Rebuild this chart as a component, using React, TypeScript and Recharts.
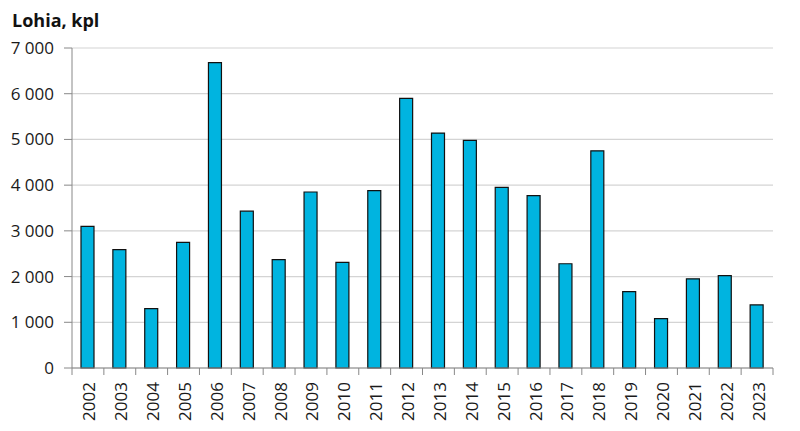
import { BarChart, Bar, XAxis, YAxis, CartesianGrid } from 'recharts'

const years = [
  '2002', '2003', '2004', '2005', '2006', '2007', '2008', '2009', '2010', '2011', '2012',
  '2013', '2014', '2015', '2016', '2017', '2018', '2019', '2020', '2021', '2022', '2023',
]
const counts = [
  3100, 2590, 1300, 2750, 6680, 3430, 2370, 3850, 2310, 3880, 5900,
  5140, 4980, 3950, 3770, 2280, 4750, 1670, 1080, 1950, 2020, 1380,
]
const yTicks = [0, 1000, 2000, 3000, 4000, 5000, 6000, 7000]

const data = years.map((year, i) => ({ year, count: counts[i] }))

const FONT = '"Open Sans", "Noto Sans", sans-serif'
const AXIS = '#888888'
const WIDTH = 800
const HEIGHT = 431
const MARGIN = { top: 48, right: 27, bottom: 0, left: 0 }
const Y_WIDTH = 72

const fmt = (v: number) => v.toLocaleString('en-US').replace(/,/g, ' ')

function YearTick(props: any) {
  const { x, y, payload, index } = props
  const half = (WIDTH - MARGIN.right - Y_WIDTH) / years.length / 2
  return (
    <g>
      <line x1={x - half} x2={x - half} y1={y - 8} y2={y - 1} stroke={AXIS} />
      {index === years.length - 1 && (
        <line x1={x + half} x2={x + half} y1={y - 8} y2={y - 1} stroke={AXIS} />
      )}
      <text
        x={0}
        y={0}
        transform={`translate(${x + 1},${y + 6}) rotate(-90)`}
        textAnchor="end"
        dominantBaseline="central"
        fontSize={17}
        fontFamily={FONT}
        fill="#1a1a1a"
      >
        {payload.value}
      </text>
    </g>
  )
}

export default function App() {
  return (
    <div style={{ position: 'absolute', left: 0, top: 0, background: '#fff' }}>
      <div
        style={{
          position: 'absolute', left: 12, top: 8, fontFamily: FONT, fontWeight: 700,
          fontSize: 18, color: '#111',
        }}
      >
        Lohia, kpl
      </div>
      <BarChart width={WIDTH} height={HEIGHT} data={data} margin={MARGIN} barSize={13}>
        <CartesianGrid vertical={false} stroke="#d4d4d4" strokeWidth={1.2} />
        <XAxis
          dataKey="year"
          height={63}
          interval={0}
          stroke={AXIS}
          tickLine={false}
          tick={<YearTick />}
        />
        <YAxis
          width={Y_WIDTH}
          domain={[0, 7000]}
          ticks={yTicks}
          tickFormatter={fmt}
          stroke={AXIS}
          tickSize={8}
          tickMargin={10}
          tick={{ fontSize: 17, fontFamily: FONT, fill: '#1a1a1a' }}
          interval={0}
        />
        <Bar dataKey="count" fill="#00b4e0" stroke="#111" strokeWidth={1.2} isAnimationActive={false} />
      </BarChart>
    </div>
  )
}
